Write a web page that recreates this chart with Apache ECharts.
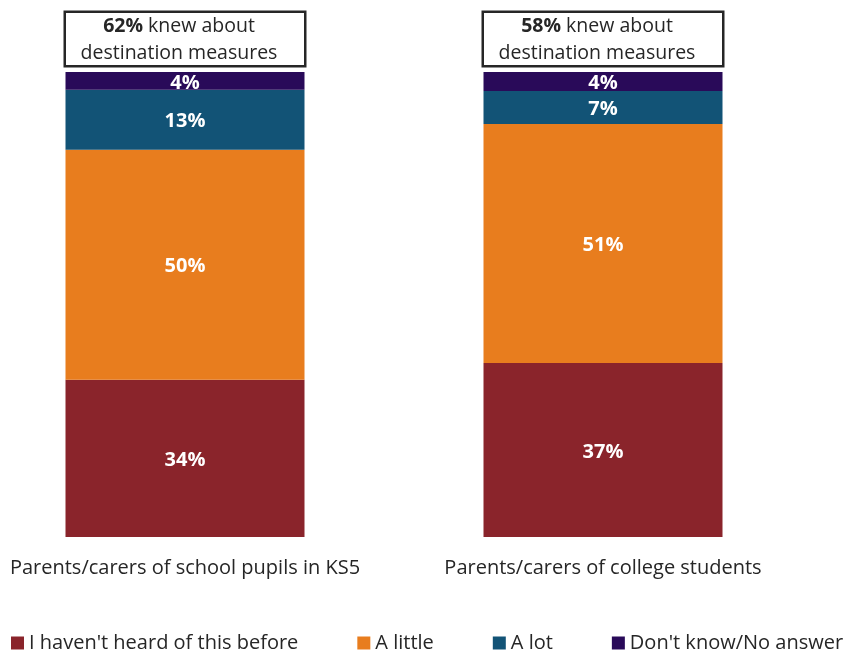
<!DOCTYPE html>
<html>
<head>
<meta charset="utf-8">
<script src="https://cdn.jsdelivr.net/npm/echarts@6/dist/echarts.min.js"></script>
<style>
  html, body { margin: 0; padding: 0; background: #ffffff; }
  #chart { width: 848px; height: 655px; }
</style>
</head>
<body>
<div id="chart"></div>
<script>
// Respondent groups
const groups = ['Parents/carers of school pupils in KS5', 'Parents/carers of college students'];

// Answer shares (%), bottom to top of each stack
const notHeard = [33.8, 37.4];
const aLittle = [49.5, 51.4];
const aLot = [12.9, 7.1];
const dontKnow = [3.8, 4.1];

// Share who knew about destination measures (%)
const knewAbout = [62, 58];

const FONT = '"Open Sans", "Noto Sans", sans-serif';
const TEXT = '#262626';

function segment(name, data, color) {
  return {
    name: name,
    type: 'bar',
    stack: 'total',
    data: data,
    barWidth: 239,
    itemStyle: { color: color },
    label: {
      show: true,
      position: 'inside',
      offset: [0, 2],
      color: '#ffffff',
      fontFamily: FONT,
      fontWeight: 'bold',
      fontSize: 20,
      formatter: p => Math.round(p.value) + '%'
    },
    emphasis: { disabled: true }
  };
}

const chart = echarts.init(document.getElementById('chart'), null, { renderer: 'canvas' });

chart.setOption({
  animation: false,
  backgroundColor: '#ffffff',
  grid: { left: -24, width: 836, top: 72, bottom: 118, outerBoundsMode: 'none', containLabel: false },
  xAxis: {
    type: 'category',
    data: groups,
    axisLine: { show: false },
    axisTick: { show: false },
    axisLabel: { interval: 0, color: TEXT, fontFamily: FONT, fontSize: 20, margin: 21 }
  },
  yAxis: { type: 'value', min: 0, max: 100, show: false },
  legend: {
    left: 11,
    top: 633,
    width: 900,
    padding: 0,
    icon: 'rect',
    itemWidth: 13,
    itemHeight: 13,
    itemGap: 59,
    textStyle: { color: TEXT, fontFamily: FONT, fontSize: 20 },
    data: ["I haven't heard of this before", 'A little', 'A lot', "Don't know/No answer"]
  },
  series: [
    segment("I haven't heard of this before", notHeard, '#8A242B'),
    segment('A little', aLittle, '#E87D1E'),
    segment('A lot', aLot, '#125376'),
    segment("Don't know/No answer", dontKnow, '#290A59'),
    {
      // Boxed callout above each stack
      type: 'scatter',
      data: knewAbout.map(() => 100),
      symbolSize: 0,
      silent: true,
      itemStyle: { opacity: 1 },
      emphasis: { disabled: true },
      label: {
        show: true,
        position: 'top',
        distance: 7,
        formatter: p => '{b|' + knewAbout[p.dataIndex] + '%} knew about\ndestination measures',
        width: 226,
        height: 50,
        padding: [0, 12, 2, 0],
        align: 'center',
        backgroundColor: '#ffffff',
        borderColor: '#262626',
        borderWidth: 2.5,
        color: TEXT,
        fontFamily: FONT,
        fontSize: 19.5,
        lineHeight: 27,
        textBorderWidth: 0,
        rich: {
          b: { fontWeight: 'bold', fontFamily: FONT, fontSize: 19.5, color: TEXT, lineHeight: 27 }
        }
      }
    }
  ]
});
</script>
</body>
</html>
